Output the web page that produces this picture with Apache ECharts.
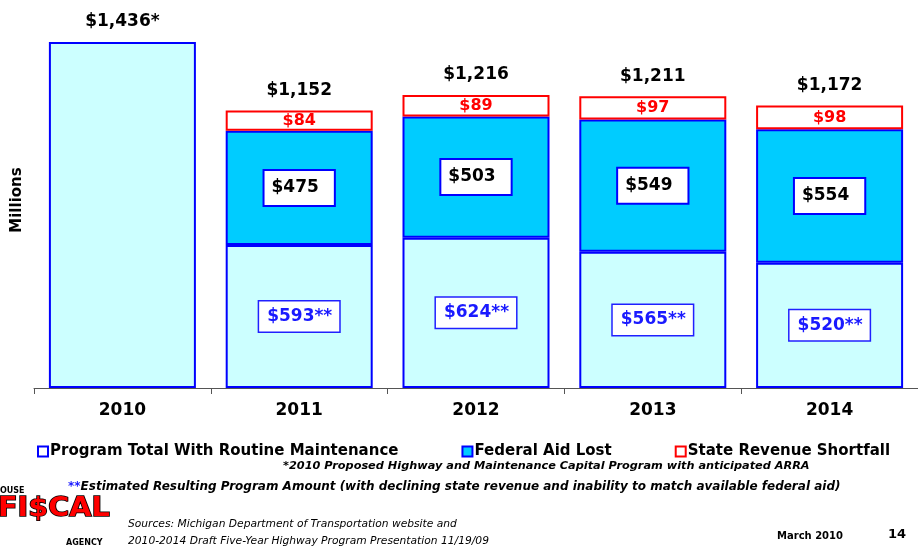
<!DOCTYPE html>
<html>
<head>
<meta charset="utf-8">
<script src="https://cdn.jsdelivr.net/npm/echarts@6/dist/echarts.min.js"></script>
<style>
  html, body { margin: 0; padding: 0; background: #fff; }
  #chart { width: 918px; height: 558px; }
</style>
</head>
<body>
<div id="chart"></div>
<script>
  // data (millions)
  const years = ['2010', '2011', '2012', '2013', '2014']
  const programTotal = [1436, 593, 624, 565, 520]
  const federalAidLost = [null, 475, 503, 549, 554]
  const stateShortfall = [null, 84, 89, 97, 98]
  const totals = [1436, 1152, 1216, 1211, 1172]
  const totalLabels = ['$1,436*', '$1,152', '$1,216', '$1,211', '$1,172']

  const FONT = 'DejaVu Sans'
  const chart = echarts.init(document.getElementById('chart'))

  const option = {
    animation: false,
    textStyle: { fontFamily: FONT },
    grid: { left: 34, width: 887, top: 42, height: 346 },
    legend: {
      left: 32,
      top: 439,
      itemWidth: 10,
      itemHeight: 10,
      itemGap: 63,
      icon: 'rect',
      textStyle: { fontFamily: FONT, fontWeight: 'bold', fontSize: 15, color: '#000', padding: [0, 0, 0, -3] },
      data: [
        { name: 'Program Total With Routine Maintenance', itemStyle: { color: '#fff', borderColor: '#0000ff', borderWidth: 2 } },
        { name: 'Federal Aid Lost', itemStyle: { color: '#00ccff', borderColor: '#0000ff', borderWidth: 2 } },
        { name: 'State Revenue Shortfall', itemStyle: { color: '#fff', borderColor: '#ff0000', borderWidth: 2 } }
      ]
    },
    xAxis: {
      type: 'category',
      data: years,
      axisLine: { lineStyle: { color: '#555', width: 1 } },
      axisTick: { show: true, length: 6, lineStyle: { color: '#555' } },
      axisLabel: { fontFamily: FONT, fontWeight: 'bold', fontSize: 17, color: '#000', margin: 14 }
    },
    yAxis: {
      type: 'value',
      min: 0,
      max: 1436,
      show: false
    },
    series: [
      {
        name: 'Program Total With Routine Maintenance',
        type: 'bar',
        stack: 'p',
        barWidth: 147,
        itemStyle: { color: '#ccffff', borderColor: '#0000ff', borderWidth: 2 },
        data: programTotal.map((v, i) => ({
          value: v,
          label: {
            show: i > 0,
            formatter: '$' + v + '**',
            color: '#1a1aff',
            fontFamily: FONT,
            fontWeight: 'bold',
            fontSize: 17,
            backgroundColor: '#fff',
            borderColor: '#2020ff',
            borderWidth: 1.5,
            padding: [7, 7, 6, 8]
          }
        }))
      },
      {
        name: 'Federal Aid Lost',
        type: 'bar',
        stack: 'p',
        barWidth: 147,
        itemStyle: { color: '#00ccff', borderColor: '#0000ff', borderWidth: 2 },
        label: {
          show: true,
          formatter: p => '$' + p.value,
          color: '#000',
          fontFamily: FONT,
          fontWeight: 'bold',
          fontSize: 17,
          backgroundColor: '#fff',
          borderColor: '#0000ff',
          borderWidth: 2,
          padding: [9, 15, 8, 7]
        },
        data: federalAidLost.map(v => v === null ? '-' : v)
      },
      {
        name: 'State Revenue Shortfall',
        type: 'bar',
        stack: 'p',
        barWidth: 147,
        itemStyle: { color: '#fff', borderColor: '#ff0000', borderWidth: 2 },
        label: {
          show: true,
          formatter: p => '$' + p.value,
          color: '#ff0000',
          fontFamily: FONT,
          fontWeight: 'bold',
          fontSize: 16
        },
        data: stateShortfall.map(v => v === null ? '-' : v)
      },
      {
        // invisible points at each stack top, only used to carry the total labels
        name: 'totals',
        type: 'scatter',
        symbolSize: 1,
        silent: true,
        itemStyle: { color: 'rgba(0,0,0,0)', opacity: 1 },
        label: {
          show: true,
          position: 'top',
          distance: 11,
          formatter: p => totalLabels[p.dataIndex],
          color: '#000',
          opacity: 1,
          fontFamily: FONT,
          fontWeight: 'bold',
          fontSize: 17
        },
        data: totals
      }
    ],
    graphic: [
      {
        type: 'text', x: 17, y: 200,
        rotation: Math.PI / 2,
        style: { text: 'Millions', font: 'bold 15px "DejaVu Sans"', fill: '#000', align: 'center', verticalAlign: 'middle' }
      },
      {
        type: 'text', x: 283, y: 461,
        style: { text: '*2010 Proposed Highway and Maintenance Capital Program with anticipated ARRA', font: 'italic bold 11.3px "DejaVu Sans"', fill: '#000' }
      },
      {
        type: 'text', x: 68, y: 481,
        style: {
          text: '{b|**}Estimated Resulting Program Amount (with declining state revenue and inability to match available federal aid)',
          font: 'italic bold 12px "DejaVu Sans"', fill: '#000',
          rich: { b: { fill: '#1a1aff', font: 'italic bold 12px "DejaVu Sans"' } }
        }
      },
      {
        type: 'text', x: 128, y: 519,
        style: { text: 'Sources: Michigan Department of Transportation website and', font: 'italic 10.7px "DejaVu Sans"', fill: '#000' }
      },
      {
        type: 'text', x: 128, y: 536,
        style: { text: '2010-2014 Draft Five-Year Highway Program Presentation 11/19/09', font: 'italic 10.7px "DejaVu Sans"', fill: '#000' }
      },
      {
        type: 'text', x: 777, y: 531,
        style: { text: 'March 2010', font: 'bold 10px "DejaVu Sans"', fill: '#000' }
      },
      {
        type: 'text', x: 888, y: 528,
        style: { text: '14', font: 'bold 13px "DejaVu Sans"', fill: '#000' }
      },
      // house fiscal agency logo, approximated with text
      {
        type: 'text', x: 0, y: 487,
        style: { text: 'OUSE', font: 'bold 8px "DejaVu Sans"', fill: '#000' }
      },
      {
        type: 'text', x: -2, y: 495, scaleX: 1.18,
        style: { text: 'FI$CAL', font: 'bold 27px "DejaVu Sans Condensed"', fill: '#ff0000', stroke: '#000', lineWidth: 1.5 }
      },
      {
        type: 'text', x: 66, y: 539,
        style: { text: 'AGENCY', font: 'bold 8px "DejaVu Sans"', fill: '#000' }
      }
    ]
  }

  chart.setOption(option)
</script>
</body>
</html>
